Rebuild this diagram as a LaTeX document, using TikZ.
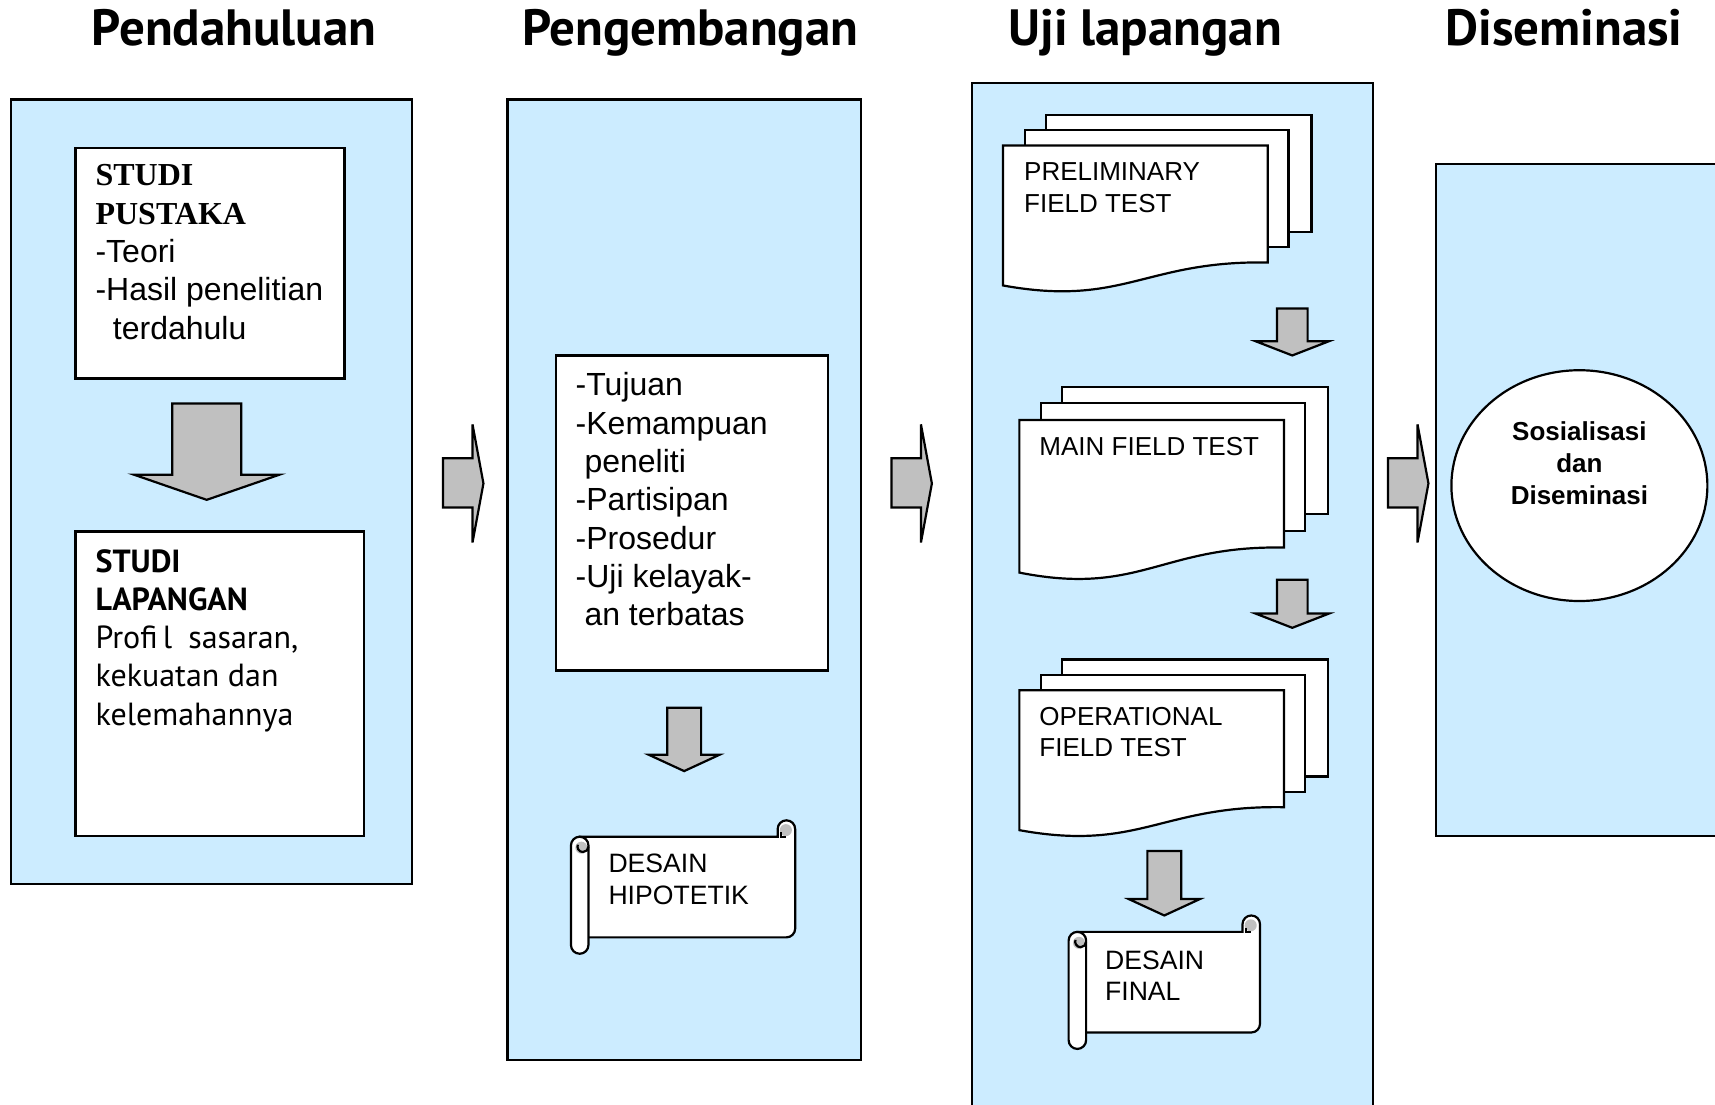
\documentclass[tikz,border=0pt]{standalone}
\usepackage{fontspec}
\setmainfont{Liberation Sans}
\newfontfamily\ptsans{PT Sans}
\newfontfamily\serifb{Liberation Serif}
\usetikzlibrary{shapes.geometric}
\definecolor{panelblue}{RGB}{204,236,255}
\definecolor{arrowgray}{RGB}{192,192,192}

% #1 left x, #2 top y, #3 vertical scale
\newcommand\docstack[3]{%
  \draw[box] (#1+39,#2-28*#3) rectangle (#1+282,#2+79*#3);
  \draw[box] (#1+20,#2-14*#3) rectangle (#1+261,#2+93*#3);
  \draw[box] (#1,#2) -- (#1+242,#2) -- (#1+242,#2+107*#3)
     .. controls (#1+130,#2+105*#3) and (#1+110,#2+148*#3) .. (#1,#2+128*#3) -- cycle;
}
\newcommand\scrollshape[4]{%
  \draw[box] (#1+8,#2) -- (#3-16,#2) -- (#3-16,#2-7)
     arc[start angle=180,end angle=360,radius=8] -- (#3,#4-8)
     arc[start angle=0,end angle=90,radius=8] -- (#1+8,#4) -- cycle;
  \fill[arrowgray] (#3-8.5,#2-6) circle (5.5);
  \draw[line width=1.1pt] (#3-13,#2-4) -- (#3-13,#2) -- (#3-8,#2);
  \draw[box] (#1,#2+8) arc[start angle=180,end angle=360,radius=8] -- (#1+16,#4+7)
     arc[start angle=0,end angle=180,radius=8] -- cycle;
  \fill[arrowgray] (#1+9.5,#2+10) circle (5.5);
  \draw[line width=1.1pt] (#1+16,#2+9) arc[start angle=0,end angle=200,radius=5];
}
\newcommand\rightfat[3]{%
  \draw[fatarrow] (#1,419) -- (#2,419) -- (#2,388) -- (#3,442) -- (#2,496)
     -- (#2,464) -- (#1,464) -- cycle;
}
\newcommand\downfat[6]{%
  \draw[fatarrow] (#1-#2,#4) -- (#1+#2,#4) -- (#1+#2,#5) -- (#1+#3,#5)
     -- (#1,#6) -- (#1-#3,#5) -- (#1-#2,#5) -- cycle;
}

\begin{document}
\begin{tikzpicture}[x=0.5469pt,y=-0.5469pt,
  panel/.style={draw=black, line width=1.1pt, fill=panelblue},
  box/.style={draw=black, line width=1.1pt, fill=white},
  fatarrow/.style={draw=black, line width=1.1pt, fill=arrowgray},
  title/.style={anchor=base, inner sep=0, font=\ptsans\bfseries\fontsize{25.5}{30}\selectfont},
  txt/.style={anchor=base west, inner sep=0}]

\useasboundingbox (0,0) rectangle (1568,1009.4);
\fill[white] (0,0) rectangle (1568,1009.4);

% titles
\node[title] (t1) at (214,42) {Pendahuluan};
\node[title] (t2) at (631,42) {Pengembangan};
\node[title] (t3) at (1047,42) {Uji lapangan};
\node[title] (t4) at (1430,42) {Diseminasi};

% panels
\draw[panel] (10,91) rectangle (377,808);
\draw[panel] (464,91) rectangle (787,969);
\draw[panel] (889,76) rectangle (1255,1020);
\draw[panel] (1313,150) rectangle (1580,764);

% arrows between panels
\rightfat{405}{432}{442}
\rightfat{815}{842}{852}
\rightfat{1269}{1296}{1306}

% Pendahuluan
\draw[box] (69,135) rectangle (315,346);
\node[txt] (pustaka) at (87,170) {\fontsize{16}{19.14}\selectfont
  \begin{tabular}[t]{@{}l@{}}{\serifb\bfseries STUDI}\\{\serifb\bfseries PUSTAKA}\\-Teori\\-Hasil penelitian\\\hspace*{8.7pt}terdahulu\end{tabular}};
\downfat{189}{31.5}{66.5}{369}{434}{457}
\draw[box] (69,486) rectangle (333,764);
\node[txt] (lapangan) at (87,523) {\ptsans\fontsize{16}{19.14}\selectfont
  \begin{tabular}[t]{@{}l@{}}\textbf{STUDI}\\\textbf{LAPANGAN}\\Profi\,l\enspace sasaran,\\kekuatan dan\\kelemahannya\end{tabular}};

% Pengembangan
\draw[box] (508,325) rectangle (757,613);
\node[txt] (tujuan) at (526,362) {\fontsize{16}{19.14}\selectfont
  \begin{tabular}[t]{@{}l@{}}-Tujuan\\-Kemampuan\\\hspace*{4.4pt}peneliti\\-Partisipan\\-Prosedur\\-Uji kelayak-\\\hspace*{4.4pt}an terbatas\end{tabular}};
\downfat{625.5}{15.5}{32.5}{647}{690}{705}
\scrollshape{522}{765}{727}{857}
\node[txt] (hipotetik) at (556,798) {\fontsize{13.3}{15.86}\selectfont
  \begin{tabular}[t]{@{}l@{}}DESAIN\\HIPOTETIK\end{tabular}};

% Uji lapangan
\docstack{917}{133}{1}
\node[txt] (prelim) at (936,165) {\fontsize{13}{15.86}\selectfont
  \begin{tabular}[t]{@{}l@{}}PRELIMINARY\\FIELD TEST\end{tabular}};
\downfat{1181.5}{14}{33.5}{282}{312}{325}
\docstack{932}{384}{1.09}
\node[txt] (mainft) at (950,416) {\fontsize{13}{15.86}\selectfont MAIN FIELD TEST};
\downfat{1181.5}{14}{33.5}{530}{561}{574}
\docstack{932}{631}{1}
\node[txt] (operft) at (950,663) {\fontsize{13}{15.86}\selectfont
  \begin{tabular}[t]{@{}l@{}}OPERATIONAL\\FIELD TEST\end{tabular}};
\downfat{1064.5}{15.5}{32.5}{778}{822}{837}
\scrollshape{977}{852}{1152}{944}
\node[txt] (final) at (1010,886) {\fontsize{13.3}{15.86}\selectfont
  \begin{tabular}[t]{@{}l@{}}DESAIN\\FINAL\end{tabular}};

% Diseminasi
\node[ellipse, draw=black, line width=1.1pt, fill=white, minimum width=128pt,
  minimum height=115.4pt, inner sep=0] (sosial) at (1444,444) {};
\node[anchor=base, inner sep=0, font=\bfseries\fontsize{13}{15.86}\selectfont] (sostext) at (1444,403)
  {\begin{tabular}[t]{@{}c@{}}Sosialisasi\\dan\\Diseminasi\end{tabular}};
\end{tikzpicture}
\end{document}
